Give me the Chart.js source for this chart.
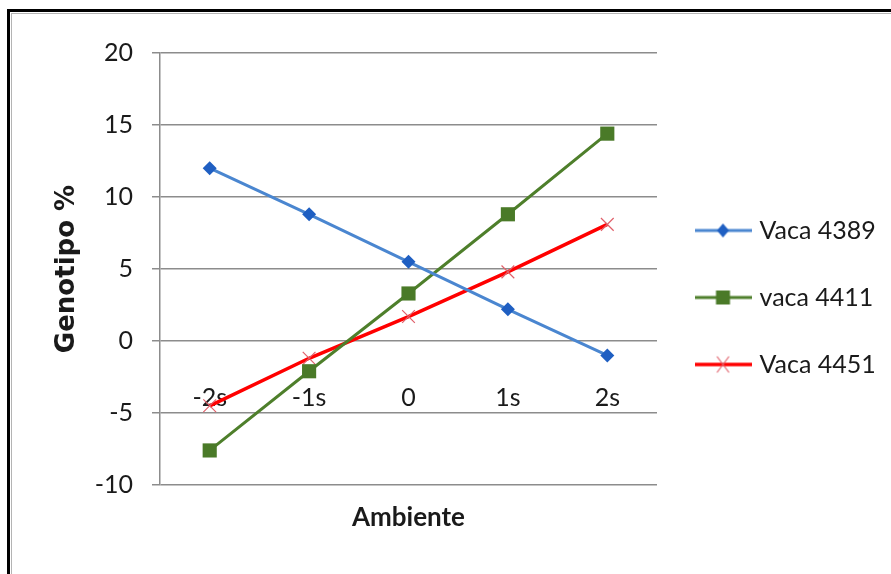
<!DOCTYPE html>
<html>
<head>
<meta charset="utf-8">
<script src="https://cdn.jsdelivr.net/npm/chart.js@4/dist/chart.umd.min.js"></script>
<style>
  html, body { margin: 0; padding: 0; background: #fff; width: 891px; height: 574px; overflow: hidden; }
  #frame { position: absolute; left: 7px; top: 9px; width: 900px; height: 600px; border-left: 3px solid #000; border-top: 3px solid #000; }
  #inner { position: absolute; left: 11px; top: 13px; width: 900px; height: 600px; border-left: 1px solid #b4b4b4; border-top: 1px solid #b4b4b4; }
  #wrap { position: absolute; left: 0; top: 0; width: 891px; height: 574px; }
</style>
</head>
<body>
<div id="frame"></div>
<div id="inner"></div>
<div id="wrap"><canvas id="c" width="891" height="574"></canvas></div>
<script>
// Environment levels (x axis)
const categories = ['-2s', '-1s', '0', '1s', '2s'];
// Series names
const seriesNames = ['Vaca 4389', 'vaca 4411', 'Vaca 4451'];
// Genotype response, %
const vaca4389 = [12.0, 8.8, 5.5, 2.2, -1.0];
const vaca4411 = [-7.6, -2.1, 3.3, 8.8, 14.4];
const vaca4451 = [-4.5, -1.2, 1.7, 4.8, 8.1];
// Value axis range and step
const yMin = -10, yMax = 20, yStep = 5;

const FONT = 'Lato, "Open Sans", sans-serif';
const TEXT = '#1a1a1a';
const GRID = '#8c8c8c';

// Small legend swatch: a line segment with the series marker in the middle
function swatch(lineColor, lineWidth, marker, markerColor) {
  const w = 57, h = 20, cx = w / 2, cy = h / 2;
  const cv = document.createElement('canvas');
  cv.width = w; cv.height = h;
  const g = cv.getContext('2d');
  g.strokeStyle = lineColor; g.lineWidth = lineWidth;
  g.beginPath(); g.moveTo(0, cy); g.lineTo(w, cy); g.stroke();
  g.fillStyle = markerColor; g.strokeStyle = markerColor;
  if (marker === 'diamond') {
    g.beginPath(); g.moveTo(cx, cy - 7); g.lineTo(cx + 6, cy); g.lineTo(cx, cy + 7); g.lineTo(cx - 6, cy); g.closePath(); g.fill();
  } else if (marker === 'square') {
    g.fillRect(cx - 7, cy - 7, 14, 14);
  } else {
    g.lineWidth = 1.2;
    g.beginPath(); g.moveTo(cx - 6, cy - 8); g.lineTo(cx + 6, cy + 8); g.moveTo(cx + 6, cy - 8); g.lineTo(cx - 6, cy + 8); g.stroke();
  }
  return cv;
}

const swatches = [
  swatch('#4a86d0', 3, 'diamond', '#1f5fc2'),
  swatch('#4e7f2b', 3, 'square', '#4a7a28'),
  swatch('#ff0000', 3.5, 'x', '#e0606a')
];

// Nudges the legend block upward inside its column
const legendShift = {
  id: 'legendShift',
  afterLayout(chart) {
    const l = chart.legend;
    if (l) { l.top -= 16; l.bottom -= 16; }
  }
};

new Chart(document.getElementById('c'), {
  type: 'line',
  data: {
    labels: categories,
    datasets: [
      {
        label: seriesNames[0], data: vaca4389,
        borderColor: '#4a86d0', borderWidth: 3,
        pointStyle: 'rectRot', pointRadius: 7, pointBackgroundColor: '#1f5fc2', pointBorderColor: '#1f5fc2', pointBorderWidth: 0,
        tension: 0
      },
      {
        label: seriesNames[1], data: vaca4411,
        borderColor: '#4e7f2b', borderWidth: 3,
        pointStyle: 'rect', pointRadius: 10, pointBackgroundColor: '#4a7a28', pointBorderColor: '#4a7a28', pointBorderWidth: 0,
        tension: 0
      },
      {
        label: seriesNames[2], data: vaca4451,
        borderColor: '#ff0000', borderWidth: 3.5,
        pointStyle: 'crossRot', pointRadius: 9, pointBorderColor: '#e0606a', pointBorderWidth: 1.2,
        tension: 0
      }
    ]
  },
  plugins: [legendShift],
  options: {
    responsive: false,
    animation: false,
    devicePixelRatio: 1,
    layout: { padding: { top: 53, left: 0, right: 15, bottom: 0 } },
    plugins: {
      tooltip: { enabled: false },
      legend: {
        position: 'right',
        labels: {
          usePointStyle: true,
          pointStyleWidth: 48,
          boxHeight: 20,
          padding: 42,
          color: TEXT,
          font: { family: FONT, size: 25 },
          generateLabels(chart) {
            return chart.data.datasets.map((ds, i) => ({
              text: ds.label,
              pointStyle: swatches[i],
              datasetIndex: i,
              hidden: false,
              lineWidth: 0,
              fillStyle: 'transparent',
              strokeStyle: 'transparent',
              fontColor: TEXT
            }));
          }
        }
      }
    },
    scales: {
      x: {
        type: 'category',
        offset: true,
        grid: { display: false, drawTicks: false },
        border: { display: false },
        ticks: { mirror: true, padding: 72, color: TEXT, font: { family: FONT, size: 25 }, maxRotation: 0, autoSkip: false },
        title: { display: true, text: 'Ambiente', color: TEXT, font: { family: FONT, size: 26, weight: 'bold' }, padding: { top: 0, bottom: 41 } },
        afterFit(s) { s.height = 89; }
      },
      y: {
        min: yMin, max: yMax,
        ticks: { stepSize: yStep, color: TEXT, padding: 19, font: { family: FONT, size: 25 } },
        grid: { color: GRID, lineWidth: 1.5, tickLength: 8 },
        border: { color: GRID, width: 1.5 },
        title: { display: true, text: 'Genotipo %', color: TEXT, font: { family: '"DejaVu Sans", sans-serif', size: 26, weight: 'bold' }, padding: { top: 52, bottom: 0 } },
        afterFit(s) { s.width = 160; }
      }
    }
  }
});
</script>
</body>
</html>
